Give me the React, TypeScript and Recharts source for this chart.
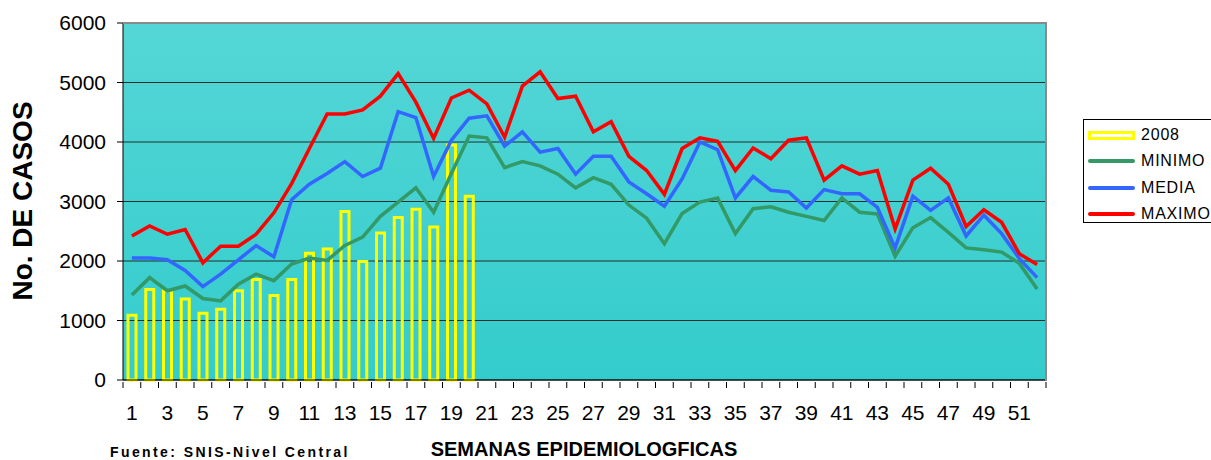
import { Bar, CartesianGrid, ComposedChart, Line, XAxis, YAxis } from 'recharts';

// Epidemiological weeks
const WEEKS = [
	1, 2, 3, 4, 5, 6, 7, 8, 9, 10, 11, 12, 13, 14, 15, 16, 17, 18, 19, 20, 21, 22, 23, 24, 25, 26,
	27, 28, 29, 30, 31, 32, 33, 34, 35, 36, 37, 38, 39, 40, 41, 42, 43, 44, 45, 46, 47, 48, 49, 50, 51, 52,
];

// 2008 cases (only weeks 1-20 reported)
const CASES_2008 = [
	1090, 1520, 1500, 1360, 1120, 1190, 1500, 1690, 1420, 1690, 2130, 2200, 2830, 1990, 2470, 2730, 2870, 2570, 3950, 3090,
];

const MINIMO = [
	1430, 1720, 1500, 1580, 1370, 1330, 1610, 1780, 1670, 1950, 2050, 2010, 2260, 2400, 2750, 2990, 3230, 2820, 3470, 4100,
	4070, 3570, 3670, 3600, 3460, 3230, 3400, 3290, 2940, 2720, 2290, 2800, 2990, 3060, 2460, 2880, 2910, 2820, 2750, 2680,
	3060, 2820, 2790, 2080, 2560, 2730, 2480, 2220, 2190, 2150, 1960, 1530,
];

const MEDIA = [
	2050, 2050, 2020, 1840, 1570, 1780, 2020, 2260, 2070, 3030, 3290, 3470, 3670, 3420, 3560, 4510, 4410, 3420, 4030, 4400,
	4440, 3930, 4170, 3830, 3890, 3460, 3760, 3760, 3330, 3130, 2920, 3380, 4000, 3870, 3060, 3420, 3190, 3160, 2890, 3200,
	3130, 3130, 2900, 2220, 3090, 2850, 3060, 2420, 2770, 2460, 2040, 1720,
];

const MAXIMO = [
	2420, 2590, 2450, 2530, 1970, 2250, 2250, 2450, 2810, 3300, 3890, 4470, 4470, 4540, 4770, 5150, 4670, 4060, 4740, 4870,
	4640, 4080, 4940, 5180, 4730, 4770, 4170, 4340, 3760, 3520, 3120, 3890, 4070, 4010, 3520, 3900, 3720, 4030, 4070, 3360,
	3600, 3460, 3520, 2540, 3360, 3560, 3290, 2580, 2860, 2650, 2120, 1940,
];

const Y_TICKS = [0, 1000, 2000, 3000, 4000, 5000, 6000];

const data = WEEKS.map((week, i) => ({
	week,
	y2008: CASES_2008[i] ?? null,
	minimo: MINIMO[i],
	media: MEDIA[i],
	maximo: MAXIMO[i],
}));

const FONT = 'Arial, "Liberation Sans", sans-serif';
const W = 1211;
const H = 460;
const PLOT_LEFT = 123;
const PLOT_RIGHT = 1046;
const PLOT_TOP = 23;
const PLOT_BOTTOM = 380;
const STEP = (PLOT_RIGHT - PLOT_LEFT) / WEEKS.length;

const WeekTick = (props: any) => {
	const { x, y, payload } = props;
	const isLast = payload.value === WEEKS[WEEKS.length - 1];
	return (
		<g>
			<line x1={x - STEP / 2} x2={x - STEP / 2} y1={y} y2={y + 6} stroke="#000" />
			{isLast && <line x1={x + STEP / 2} x2={x + STEP / 2} y1={y} y2={y + 6} stroke="#000" />}
			{payload.value % 2 === 1 && (
				<text x={x} y={y + 38} textAnchor="middle" fontSize={21} fontFamily={FONT} fill="#000">
					{payload.value}
				</text>
			)}
		</g>
	);
};

const LEGEND = [
	{ name: '2008', color: '#ffff00', bar: true },
	{ name: 'MINIMO', color: '#339966', bar: false },
	{ name: 'MEDIA', color: '#3366ff', bar: false },
	{ name: 'MAXIMO', color: '#ff0000', bar: false },
];

export default function App() {
	return (
		<div
			style={{
				position: 'fixed',
				left: 0,
				top: 0,
				width: W,
				height: H,
				overflow: 'hidden',
				background: '#fff',
				fontFamily: FONT,
			}}
		>
			<ComposedChart
				width={W}
				height={H}
				data={data}
				margin={{ top: PLOT_TOP, right: W - PLOT_RIGHT, bottom: H - PLOT_BOTTOM - 30, left: PLOT_LEFT - 60 }}
			>
				<defs>
					<linearGradient id="plotBg" x1="0" y1="0" x2="0" y2="1">
						<stop offset="0%" stopColor="#55d6d6" />
						<stop offset="100%" stopColor="#33cccc" />
					</linearGradient>
				</defs>
				<CartesianGrid vertical={false} fill="url(#plotBg)" fillOpacity={1} stroke="#1e2e2e" />
				<XAxis
					dataKey="week"
					interval={0}
					height={30}
					tickLine={false}
					tickSize={0}
					axisLine={{ stroke: '#000' }}
					tick={(p: any) => <WeekTick {...p} />}
				/>
				<YAxis
					width={60}
					domain={[0, 6000]}
					ticks={Y_TICKS}
					interval={0}
					tickSize={6}
					tickMargin={11}
					axisLine={{ stroke: '#000' }}
					tickLine={{ stroke: '#000' }}
					tick={{ fontSize: 21, fill: '#000', fontFamily: FONT }}
				/>
				<Bar dataKey="y2008" barSize={8} fill="none" stroke="#ffff00" strokeWidth={3} isAnimationActive={false} />
				<Line type="linear" dataKey="minimo" stroke="#339966" strokeWidth={3.5} dot={false} isAnimationActive={false} />
				<Line type="linear" dataKey="media" stroke="#3366ff" strokeWidth={3.5} dot={false} isAnimationActive={false} />
				<Line type="linear" dataKey="maximo" stroke="#ff0000" strokeWidth={3.5} dot={false} isAnimationActive={false} />
			</ComposedChart>

			{/* plot frame, top and right */}
			<div
				style={{
					position: 'absolute',
					left: PLOT_LEFT,
					top: PLOT_TOP - 1,
					width: PLOT_RIGHT - PLOT_LEFT - 1,
					height: PLOT_BOTTOM - PLOT_TOP,
					borderTop: '2px solid #8a8a8a',
					borderRight: '2px solid #8a8a8a',
					pointerEvents: 'none',
				}}
			/>

			{/* Y axis title */}
			<div
				style={{
					position: 'absolute',
					left: 23,
					top: 201,
					transform: 'translate(-50%, -50%) rotate(-90deg)',
					whiteSpace: 'nowrap',
					fontSize: 28,
					fontWeight: 'bold',
				}}
			>
				No. DE CASOS
			</div>

			{/* X axis title */}
			<div
				style={{
					position: 'absolute',
					left: 584,
					top: 449,
					transform: 'translate(-50%, -50%)',
					whiteSpace: 'nowrap',
					fontSize: 20,
					lineHeight: 1,
					fontWeight: 'bold',
					letterSpacing: 0,
				}}
			>
				SEMANAS EPIDEMIOLOGFICAS
			</div>

			{/* Source */}
			<div
				style={{
					position: 'absolute',
					left: 110,
					top: 452,
					transform: 'translateY(-50%)',
					whiteSpace: 'nowrap',
					fontSize: 14,
					lineHeight: 1,
					fontWeight: 'bold',
					letterSpacing: 2.4,
				}}
			>
				Fuente: SNIS-Nivel Central
			</div>

			{/* Legend */}
			<div
				style={{
					position: 'absolute',
					left: 1083,
					top: 119,
					width: 150,
					height: 104,
					border: '1px solid #000',
					background: '#fff',
					boxSizing: 'border-box',
				}}
			>
				{LEGEND.map((item, i) => (
					<div
						key={item.name}
						style={{
							position: 'absolute',
							left: 4,
							top: 15 + i * 26.3,
							transform: 'translateY(-50%)',
							display: 'flex',
							alignItems: 'center',
							gap: 6,
							fontSize: 16,
							lineHeight: 1,
							whiteSpace: 'nowrap',
							letterSpacing: 0.8,
						}}
					>
						{item.bar ? (
							<span style={{ width: 47, height: 9, border: `3px solid ${item.color}`, boxSizing: 'border-box' }} />
						) : (
							<span style={{ width: 47, height: 4, borderRadius: 2, background: item.color }} />
						)}
						<span>{item.name}</span>
					</div>
				))}
			</div>
		</div>
	);
}
